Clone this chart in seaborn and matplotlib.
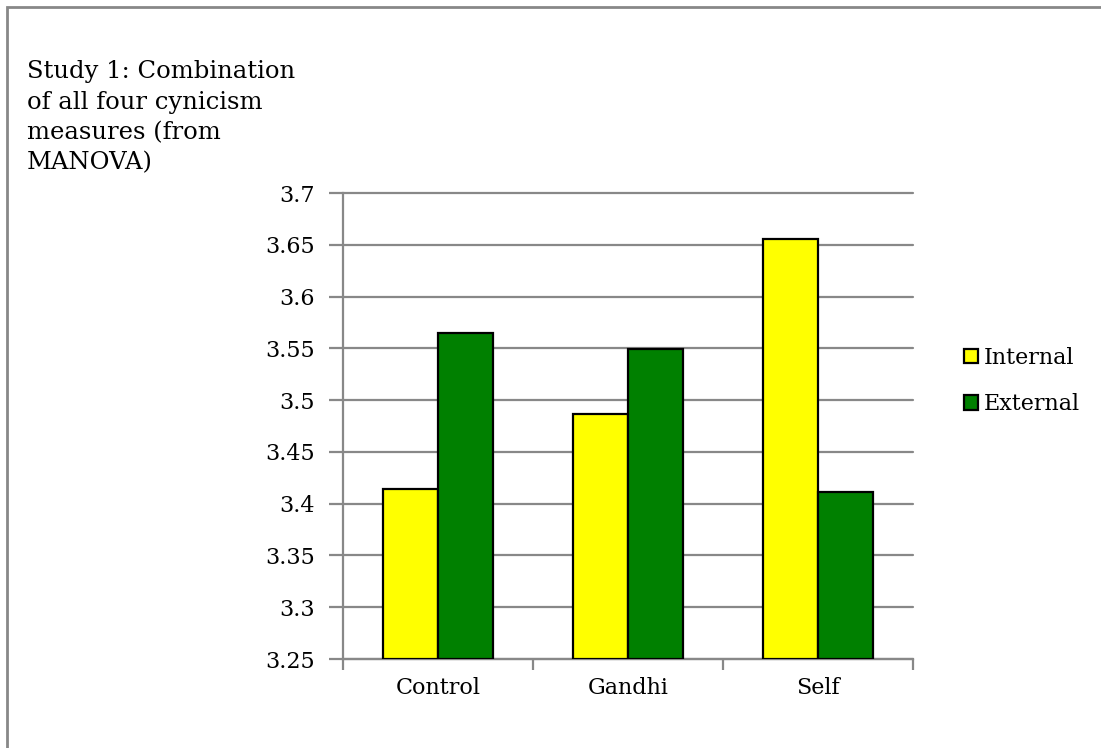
import numpy as np
import pandas as pd
import matplotlib
matplotlib.use("Agg")
import matplotlib.pyplot as plt
import seaborn as sns
from matplotlib.patches import Rectangle, Patch

conditions = ["Control", "Gandhi", "Self"]
internal = [3.414, 3.487, 3.656]
external = [3.565, 3.549, 3.411]
series_names = ["Internal", "External"]
y_ticks = [3.25, 3.3, 3.35, 3.4, 3.45, 3.5, 3.55, 3.6, 3.65, 3.7]
title_text = "Study 1: Combination\nof all four cynicism\nmeasures (from\nMANOVA)"

df = pd.DataFrame({
    "condition": conditions * 2,
    "series": [series_names[0]] * 3 + [series_names[1]] * 3,
    "value": internal + external,
})

sns.set_style("white")
plt.rcParams["font.family"] = ["DejaVu Serif"]
plt.rcParams["text.color"] = "black"
plt.rcParams["xtick.labelcolor"] = "black"
plt.rcParams["ytick.labelcolor"] = "black"

W, H = 1101, 748
fig = plt.figure(figsize=(W / 100, H / 100), dpi=100)
ax = fig.add_axes([343 / W, 1 - 659 / H, 570 / W, 466 / H])

palette = {"Internal": "#ffff00", "External": "#008000"}
# bars start from the axis floor, so draw heights above 3.25
base = 3.25
df["height"] = df["value"] - base
sns.barplot(data=df, x="condition", y="height", hue="series", palette=palette,
            width=0.58, edgecolor="black", linewidth=1.6, saturation=1,
            ax=ax, legend=False, zorder=3)
for p in ax.patches:
    p.set_y(base)
ax.set_ylim(base, 3.7)
ax.set_xlim(-0.5, 2.5)

ax.set_yticks(y_ticks)
ax.set_yticklabels([f"{t:g}" for t in y_ticks], fontsize=16, color="black")
ax.yaxis.grid(True, color="#888888", linewidth=1.6, zorder=0)
for gl in ax.get_ygridlines():
    gl.set_clip_on(False)
ax.set_axisbelow(True)

ax.set_xticks([0, 1, 2])
ax.set_xticklabels(conditions, fontsize=16, color="black")
ax.tick_params(axis="x", length=0, pad=13)
ax.tick_params(axis="y", length=10, width=1.6, color="#888888", direction="out", pad=10, left=True)

# category boundary ticks on the x axis
ax.set_xticks([-0.5, 0.5, 1.5, 2.5], minor=True)
ax.tick_params(axis="x", which="minor", length=8, width=1.6, color="#888888", direction="out", bottom=True)

for s in ["top", "right"]:
    ax.spines[s].set_visible(False)
for s in ["left", "bottom"]:
    ax.spines[s].set_color("#888888")
    ax.spines[s].set_linewidth(1.6)
ax.set_xlabel("")
ax.set_ylabel("")

handles = [Patch(facecolor=palette[n], edgecolor="black", linewidth=1.6) for n in series_names]
fig.legend(handles, series_names, loc="center left", bbox_to_anchor=(944 / W, 1 - 381 / H),
           frameon=False, fontsize=16, handlelength=0.65, handleheight=0.65,
           handletextpad=0.25, labelspacing=1.1)

fig.text(27 / W, 1 - 60 / H, title_text, fontsize=17.5, va="top", ha="left", linespacing=1.42,
         color="black")

# chart frame
fig.patches.append(Rectangle((7 / W, -0.1), 1.2, 1 - 7 / H + 0.1, transform=fig.transFigure,
                             fill=False, edgecolor="#888888", linewidth=2))

fig.savefig("out.png", dpi=100)
